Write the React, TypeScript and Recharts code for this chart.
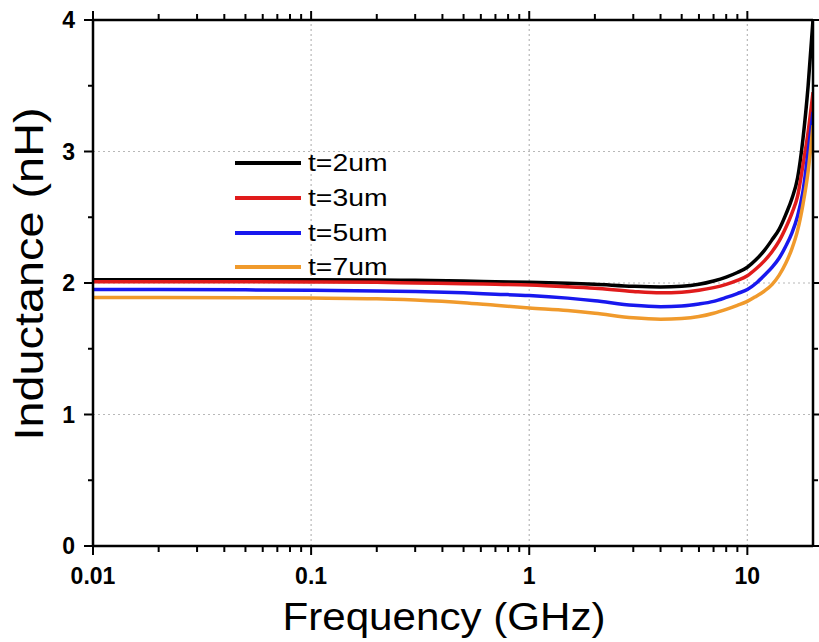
import React from 'react';
import { LineChart, Line, XAxis, YAxis, ReferenceLine, Legend, Label } from 'recharts';

// Frequency sweep (GHz), log-spaced
const frequencyGHz = [0.01, 0.02, 0.05, 0.1, 0.2, 0.3, 0.5, 0.7, 1, 1.5, 2, 3, 4, 5, 6, 7, 8, 9, 10, 11, 12, 13, 14, 15, 16, 17, 18, 19, 20];

// Inductance (nH) per metal thickness
const inductanceT2 = [2.025, 2.025, 2.025, 2.025, 2.023, 2.02, 2.015, 2.01, 2.005, 1.998, 1.99, 1.975, 1.97, 1.975, 1.99, 2.015, 2.045, 2.08, 2.12, 2.18, 2.25, 2.33, 2.41, 2.52, 2.64, 2.8, 3.1, 3.5, 4.0];
const inductanceT3 = [2.01, 2.01, 2.01, 2.008, 2.005, 2.0, 1.995, 1.99, 1.985, 1.972, 1.96, 1.935, 1.925, 1.93, 1.945, 1.965, 1.99, 2.02, 2.055, 2.11, 2.17, 2.24, 2.32, 2.42, 2.53, 2.66, 2.9, 3.15, 3.45];
const inductanceT5 = [1.95, 1.95, 1.948, 1.945, 1.94, 1.935, 1.925, 1.915, 1.905, 1.885, 1.865, 1.83, 1.82, 1.825, 1.84, 1.86, 1.89, 1.92, 1.95, 2.0, 2.06, 2.12, 2.19, 2.28, 2.38, 2.51, 2.7, 3.0, 3.3];
const inductanceT7 = [1.89, 1.89, 1.888, 1.885, 1.88, 1.87, 1.85, 1.83, 1.81, 1.79, 1.77, 1.735, 1.725, 1.73, 1.745, 1.77, 1.8, 1.83, 1.86, 1.9, 1.94, 1.99, 2.06, 2.15, 2.26, 2.4, 2.6, 2.85, 3.2];

const seriesNames = ['t=2um', 't=3um', 't=5um', 't=7um'];
const seriesColors = ['#000000', '#e01b1b', '#1818ee', '#f09a2c'];

// Axis ticks
const majorFreqTicks = [0.01, 0.1, 1, 10];
const allFreqTicks = [
  0.01, 0.02, 0.03, 0.04, 0.05, 0.06, 0.07, 0.08, 0.09,
  0.1, 0.2, 0.3, 0.4, 0.5, 0.6, 0.7, 0.8, 0.9,
  1, 2, 3, 4, 5, 6, 7, 8, 9,
  10,
];
const inductanceTicks = [0, 0.5, 1, 1.5, 2, 2.5, 3, 3.5, 4];
const majorInductanceTicks = [0, 1, 2, 3, 4];
const freqGrid = [0.1, 1, 10];
const inductanceGrid = [1, 2, 3];

const seriesKeys = ['t2', 't3', 't5', 't7'];
const seriesValues = [inductanceT2, inductanceT3, inductanceT5, inductanceT7];

const data = frequencyGHz.map((f, i) => {
  const row: Record<string, number> = { f };
  seriesKeys.forEach((k, s) => {
    row[k] = seriesValues[s][i];
  });
  return row;
});

const FONT = '"Liberation Sans", Arial, Helvetica, sans-serif';

const FreqTick = (props: any) => {
  const { x, y, payload, side } = props;
  const v = payload.value;
  const major = majorFreqTicks.includes(v);
  const len = major ? 9 : 6;
  const dir = side === 'top' ? -1 : 1;
  return (
    <g>
      <line x1={x} x2={x} y1={y} y2={y + dir * len} stroke="#000" strokeWidth={2} />
      {major && side === 'bottom' && (
        <text x={x} y={y + 38} textAnchor="middle" fontFamily={FONT} fontWeight="bold" fontSize={23} fill="#000">
          {String(v)}
        </text>
      )}
    </g>
  );
};

const IndTick = (props: any) => {
  const { x, y, payload, side } = props;
  const v = payload.value;
  const major = majorInductanceTicks.includes(v);
  const len = major ? 9 : 5;
  const dir = side === 'right' ? 1 : -1;
  return (
    <g>
      <line x1={x} x2={x + dir * len} y1={y} y2={y} stroke="#000" strokeWidth={2} />
      {major && side === 'left' && (
        <text x={x - 18} y={y + 8} textAnchor="end" fontFamily={FONT} fontWeight="bold" fontSize={23} fill="#000">
          {String(v)}
        </text>
      )}
    </g>
  );
};

const XTitle = (props: any) => {
  const vb = props.viewBox;
  return (
    <text
      x={vb.x + vb.width / 2 - 9}
      y={vb.y + 84}
      textAnchor="middle"
      fontFamily={FONT}
      fontSize={38}
      textLength={323}
      lengthAdjust="spacingAndGlyphs"
      fill="#000"
    >
      Frequency (GHz)
    </text>
  );
};

const YTitle = (props: any) => {
  const vb = props.viewBox;
  const cx = vb.x + 43;
  const cy = 274;
  return (
    <text
      x={cx}
      y={cy}
      transform={`rotate(-90, ${cx}, ${cy})`}
      textAnchor="middle"
      fontFamily={FONT}
      fontSize={40}
      textLength={333}
      lengthAdjust="spacingAndGlyphs"
      fill="#000"
    >
      Inductance (nH)
    </text>
  );
};

const LegendBox = () => (
  <div style={{ fontFamily: FONT }}>
    {seriesNames.map((name, i) => (
      <div key={name} style={{ display: 'flex', alignItems: 'center', height: 34.7 }}>
        <div style={{ width: 66, height: 4, background: seriesColors[i] }} />
        <span
          style={{
            marginLeft: 7,
            fontSize: 24,
            color: '#000',
            lineHeight: '24px',
            display: 'inline-block',
            transform: 'scaleX(1.18)',
            transformOrigin: 'left center',
          }}
        >
          {name}
        </span>
      </div>
    ))}
  </div>
);

export default function App() {
  return (
    <div style={{ position: 'absolute', left: 0, top: 0, width: 819, height: 642, background: '#fff' }}>
      <LineChart width={819} height={642} data={data} margin={{ top: 19, right: 5, bottom: 0, left: 0 }}>
        {freqGrid.map((g) => (
          <ReferenceLine key={`vx${g}`} x={g} stroke="#b8b8b8" strokeWidth={1.2} strokeDasharray="2 3" />
        ))}
        {inductanceGrid.map((g) => (
          <ReferenceLine key={`hy${g}`} y={g} stroke="#b8b8b8" strokeWidth={1.2} strokeDasharray="2 3" />
        ))}
        <XAxis
          dataKey="f"
          type="number"
          scale="log"
          domain={[0.01, 20]}
          allowDataOverflow
          ticks={allFreqTicks}
          interval={0}
          height={96}
          tickSize={0}
          tickMargin={0}
          tickLine={false}
          axisLine={{ stroke: '#000', strokeWidth: 2.5 }}
          tick={(p: any) => <FreqTick {...p} side="bottom" />}
        >
          <Label content={(p: any) => <XTitle {...p} />} />
        </XAxis>
        <XAxis
          xAxisId="top"
          orientation="top"
          dataKey="f"
          type="number"
          scale="log"
          domain={[0.01, 20]}
          allowDataOverflow
          ticks={allFreqTicks}
          interval={0}
          height={1}
          tickSize={0}
          tickMargin={0}
          tickLine={false}
          axisLine={{ stroke: '#000', strokeWidth: 2.5 }}
          tick={(p: any) => <FreqTick {...p} side="top" />}
        />
        <YAxis
          type="number"
          domain={[0, 4]}
          allowDataOverflow
          ticks={inductanceTicks}
          interval={0}
          width={93}
          tickSize={0}
          tickMargin={0}
          tickLine={false}
          axisLine={{ stroke: '#000', strokeWidth: 2.5 }}
          tick={(p: any) => <IndTick {...p} side="left" />}
        >
          <Label content={(p: any) => <YTitle {...p} />} />
        </YAxis>
        <YAxis
          yAxisId="right"
          orientation="right"
          type="number"
          domain={[0, 4]}
          allowDataOverflow
          ticks={inductanceTicks}
          interval={0}
          width={1}
          tickSize={0}
          tickMargin={0}
          tickLine={false}
          axisLine={{ stroke: '#000', strokeWidth: 2.5 }}
          tick={(p: any) => <IndTick {...p} side="right" />}
        />
        {seriesKeys.map((k, i) => (
          <Line
            key={k}
            dataKey={k}
            name={seriesNames[i]}
            type="monotone"
            stroke={seriesColors[i]}
            strokeWidth={3.5}
            dot={false}
            activeDot={false}
            isAnimationActive={false}
          />
        ))}
        <Legend
          layout="vertical"
          align="center"
          verticalAlign="middle"
          content={() => <LegendBox />}
          wrapperStyle={{ position: 'absolute', left: 235, top: 146, width: 'auto' }}
        />
      </LineChart>
    </div>
  );
}
